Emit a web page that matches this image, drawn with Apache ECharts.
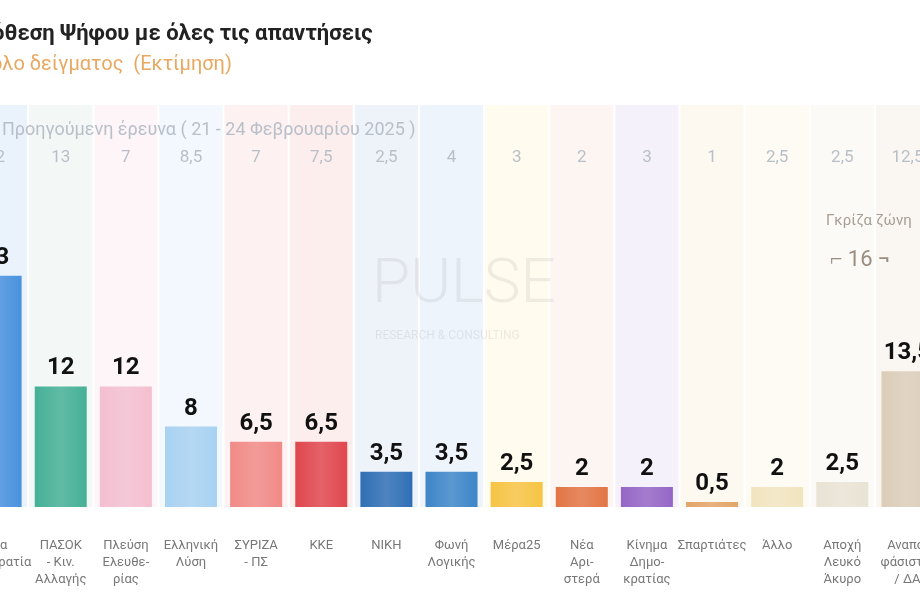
<!DOCTYPE html>
<html><head><meta charset="utf-8">
<script src="https://cdn.jsdelivr.net/npm/echarts@6/dist/echarts.min.js"></script>
<style>html,body{margin:0;padding:0;background:#fff;overflow:hidden;width:920px;height:612px;position:relative}#c{position:absolute;left:-43px;top:0;width:983px;height:612px}</style>
</head><body><div id="c"></div>
<script>
const categories = ['Νέα\nΔημοκρατία','ΠΑΣΟΚ\n- Κιν.\nΑλλαγής','Πλεύση\nΕλευθε-\nρίας','Ελληνική\nΛύση','ΣΥΡΙΖΑ\n- ΠΣ','ΚΚΕ','ΝΙΚΗ','Φωνή\nΛογικής','Μέρα25','Νέα\nΑρι-\nστερά','Κίνημα\nΔημο-\nκρατίας','Σπαρτιάτες','Άλλο','Αποχή\nΛευκό\nΆκυρο','Αναπο-\nφάσιστοι\n/ ΔΑ'];
const values = [23,12,12,8,6.5,6.5,3.5,3.5,2.5,2,2,0.5,2,2.5,13.5];
const previous = [22,13,7,8.5,7,7.5,2.5,4,3,2,3,1,2.5,2.5,12.5];
const barColors = ['#4a92de','#45b096','#f4bfd0','#a8d2f2','#f08a86','#e0474e','#2f6fb5','#3d86c8','#f6c445','#e27545','#9466c6','#e3a567','#f1e5bf','#e9e3d4','#dccdb9'];
const stripeColors = ['#eaf3fc','#f3f8f6','#fdf5f7','#f2f8fd','#fdf2f1','#fdeeee','#eef3fa','#eef4fb','#fffbee','#fdf5f1','#f5f1fb','#fdf9f1','#fdfbf4','#fbfaf6','#faf7f3'];
const greyZone = 16;
const fmt = v => String(v).replace('.', ',');
const O = 43;
const chart = echarts.init(document.getElementById('c'));
chart.setOption({
  animation:false,
  grid:{left:0,right:0,top:105,bottom:105},
  title:[
    {text:'Πρόθεση Ψήφου με όλες τις απαντήσεις',left:O-41,top:18,textStyle:{fontFamily:'Roboto',fontWeight:'bold',fontSize:22,color:'#222'}},
    {text:'Σύνολο δείγματος  (Εκτίμηση)',left:O-46,top:50,textStyle:{fontFamily:'Roboto',fontWeight:'normal',fontSize:20,color:'#e8a860'}},
    {text:'Προηγούμενη έρευνα ( 21 - 24 Φεβρουαρίου 2025 )',left:O-3,top:116,textStyle:{fontFamily:'Roboto',fontWeight:'normal',fontSize:18,color:'#b8bfc9'}}
  ],
  xAxis:[
    {type:'category',data:categories,axisLine:{show:false},axisTick:{show:false},
     axisLabel:{interval:0,margin:30,fontFamily:'Roboto',fontSize:13,lineHeight:17,color:'#777',verticalAlign:'top'}},
    {type:'category',data:categories,position:'top',show:false}
  ],
  yAxis:{type:'value',min:0,max:40,show:false,splitLine:{show:false}},
  series:[
    {type:'bar',xAxisIndex:1,barWidth:63,z:1,silent:true,
     data:stripeColors.map(c=>({value:40.5,itemStyle:{color:c}})),
     label:{show:true,position:'insideTop',distance:44,formatter:p=>fmt(previous[p.dataIndex]),fontFamily:'Roboto',fontSize:17,color:'#b9bfc8'}},
    {type:'bar',xAxisIndex:0,barWidth:52,z:3,
     data:values.map((v,i)=>({value:v,itemStyle:{color:new echarts.graphic.LinearGradient(0,0,1,0,[{offset:0,color:barColors[i]},{offset:0.5,color:echarts.color.lift(barColors[i],0.15)},{offset:1,color:barColors[i]}])}})),
     label:{show:true,position:'top',distance:6,formatter:p=>fmt(p.value),fontFamily:'Roboto',fontWeight:'bold',fontSize:24,color:'#111'}}
  ],
  graphic:[
    {type:'text',left:O+372,top:255,z:10,silent:true,style:{text:'PULSE',font:'300 62px Roboto',fill:'rgba(120,120,120,0.12)'}},
    {type:'text',left:O+375,top:330,z:10,silent:true,style:{text:'RESEARCH & CONSULTING',font:'12px Roboto',fill:'rgba(120,120,120,0.14)'}},
    {type:'text',left:O+826,top:214,z:10,style:{text:'Γκρίζα ζώνη',font:'15px Roboto',fill:'#a89e94'}},
    {type:'text',left:O+830,top:249,z:10,style:{text:'⌐ '+greyZone+' ¬',font:'22px Roboto',fill:'#9a8e82'}}
  ]
});
</script></body></html>
